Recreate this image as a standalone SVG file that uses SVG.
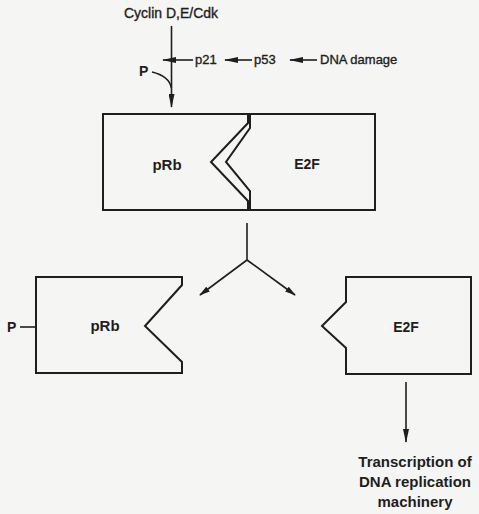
<svg xmlns="http://www.w3.org/2000/svg" width="479" height="514" viewBox="0 0 479 514">
<defs>
<style>
.bg{fill:#f5f5f3}
.box{fill:none;stroke:#1e1e1e;stroke-width:2;stroke-linejoin:miter}
.ln{fill:none;stroke:#1e1e1e;stroke-width:1.6}
.t{font-family:"Liberation Sans",Arial,sans-serif;fill:#1e1e1e}
.lab{font-size:13px;stroke:#1e1e1e;stroke-width:0.35}
.big{font-size:14px}
.thin{stroke:#1e1e1e;stroke-width:0.35}
.b{font-weight:bold}
</style>
<marker id="ah" viewBox="0 0 14 6" refX="13" refY="3" markerWidth="14" markerHeight="6" orient="auto" markerUnits="userSpaceOnUse">
<path d="M0,0 L14,3 L0,6 Z" fill="#1e1e1e"/>
</marker>
<marker id="ahs" viewBox="0 0 11 6" refX="10" refY="3" markerWidth="11" markerHeight="6" orient="auto" markerUnits="userSpaceOnUse">
<path d="M0,0 L11,3 L0,6 Z" fill="#1e1e1e"/>
</marker>
</defs>
<rect class="bg" x="0" y="0" width="479" height="514"/>

<g id="connectors">
<line class="ln" x1="171.5" y1="26" x2="171.5" y2="107" marker-end="url(#ah)"/>
<line class="ln" x1="193" y1="60" x2="163" y2="60" marker-end="url(#ah)"/>
<line class="ln" x1="252" y1="60" x2="225" y2="60" marker-end="url(#ah)"/>
<line class="ln" x1="317" y1="60" x2="290" y2="60" marker-end="url(#ah)"/>
<path class="ln" d="M152,72 Q169,76 171.5,88"/>
<line class="ln" x1="247" y1="223" x2="247" y2="260"/>
<line class="ln" x1="247" y1="260" x2="200" y2="295" marker-end="url(#ahs)"/>
<line class="ln" x1="247" y1="260" x2="295" y2="295" marker-end="url(#ahs)"/>
<line class="ln" x1="20" y1="327" x2="36" y2="327"/>
<line class="ln" x1="406" y1="382" x2="406" y2="442" marker-end="url(#ah)"/>
</g>

<g id="cyclin">
<text class="t big thin" x="171" y="18" text-anchor="middle">Cyclin D,E/Cdk</text>
</g>
<g id="p21">
<text class="t lab" x="195" y="64">p21</text>
</g>
<g id="p53">
<text class="t lab" x="254" y="64">p53</text>
</g>
<g id="dna-damage">
<text class="t lab" x="320" y="64">DNA damage</text>
</g>
<g id="phosphate">
<text class="t big b" x="139" y="76">P</text>
</g>

<g id="complex">
<path class="box" d="M103,114 H248 V123 L211,162 L248,201 V210 H103 Z"/>
<path class="box" d="M250,114 H375 V210 H250 V191 L226,162 L250,128 Z"/>
<text class="t b" font-size="15" x="167" y="170" text-anchor="middle">pRb</text>
<text class="t b" font-size="14" x="307" y="169" text-anchor="middle">E2F</text>
</g>

<g id="prb-p">
<path class="box" d="M36,277 H182 V285 L145,326 L182,362 V373 H36 Z"/>
<text class="t b" font-size="15" x="105" y="331" text-anchor="middle">pRb</text>
<text class="t big b" x="7" y="332">P</text>
</g>

<g id="e2f">
<path class="box" d="M346,277 H471 V374 H346 V348 L322,326 L346,302 Z"/>
<text class="t b" font-size="14" x="406" y="332" text-anchor="middle">E2F</text>
</g>

<g id="transcription">
<text class="t b" font-size="15" x="415" y="467" text-anchor="middle">Transcription of</text>
<text class="t b" font-size="15" x="415" y="487" text-anchor="middle">DNA replication</text>
<text class="t b" font-size="15" x="415" y="507" text-anchor="middle">machinery</text>
</g>
</svg>
